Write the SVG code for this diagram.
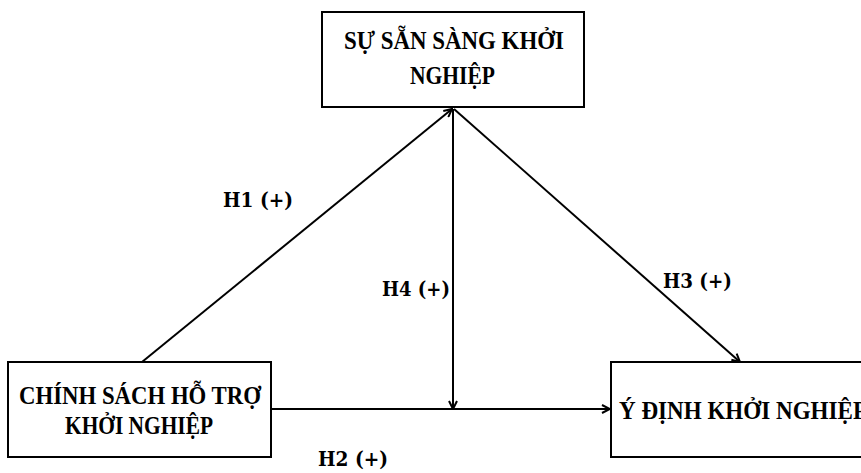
<svg xmlns="http://www.w3.org/2000/svg" width="861" height="473" viewBox="0 0 861 473">
<defs>
<style>
.box{fill:#fff;stroke:#000;stroke-width:2}
.nt{font-family:"Liberation Serif","DejaVu Serif",serif;font-weight:bold;font-size:26px;fill:#000}
.lb{font-family:"DejaVu Serif","Liberation Serif",serif;font-weight:bold;font-size:21px;fill:#000}
.cn{stroke:#000;stroke-width:2;fill:none;marker-end:url(#ah)}
</style>
<marker id="ah" viewBox="0 0 10 10" refX="9" refY="5" markerWidth="10" markerHeight="10" markerUnits="userSpaceOnUse" orient="auto">
<path d="M1,1 L9,5 L1,9" fill="none" stroke="#000" stroke-width="2"/>
</marker>
</defs>
<rect width="861" height="473" fill="#fff"/>
<g id="connectors">
<line class="cn" x1="142" y1="362" x2="452" y2="109"/>
<line class="cn" x1="453" y1="109" x2="453" y2="409"/>
<line class="cn" x1="454" y1="109" x2="740" y2="362"/>
<line class="cn" x1="271" y1="409" x2="610" y2="409"/>
</g>
<g id="node-readiness">
<rect class="box" x="322" y="12" width="262" height="95"/>
<text class="nt" x="344" y="49" textLength="220" lengthAdjust="spacingAndGlyphs">SỰ SẴN SÀNG KHỞI</text>
<text class="nt" x="410" y="84" textLength="85" lengthAdjust="spacingAndGlyphs">NGHIỆP</text>
</g>
<g id="node-policy">
<rect class="box" x="8" y="362" width="263" height="95"/>
<text class="nt" x="19" y="404" textLength="242" lengthAdjust="spacingAndGlyphs">CHÍNH SÁCH HỖ TRỢ</text>
<text class="nt" x="65" y="434" textLength="148" lengthAdjust="spacingAndGlyphs">KHỞI NGHIỆP</text>
</g>
<g id="node-intention">
<rect class="box" x="611" y="362" width="270" height="95"/>
<text class="nt" x="619" y="419" textLength="248" lengthAdjust="spacingAndGlyphs">Ý ĐỊNH KHỞI NGHIỆP</text>
</g>
<g id="labels">
<text class="lb" x="223" y="207" textLength="70" lengthAdjust="spacingAndGlyphs">H1 (+)</text>
<text class="lb" x="382" y="296" textLength="68" lengthAdjust="spacingAndGlyphs">H4 (+)</text>
<text class="lb" x="663" y="288" textLength="69" lengthAdjust="spacingAndGlyphs">H3 (+)</text>
<text class="lb" x="318" y="466" textLength="70" lengthAdjust="spacingAndGlyphs">H2 (+)</text>
</g>
</svg>
